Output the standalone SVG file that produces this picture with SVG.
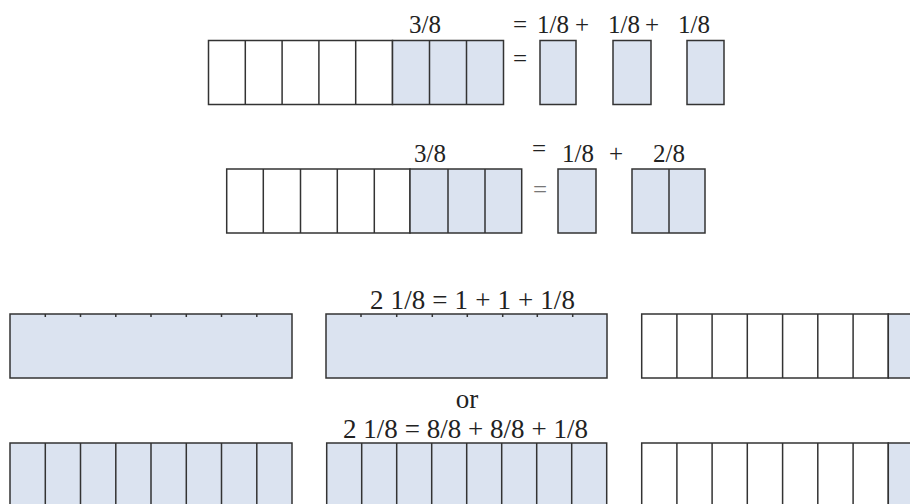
<svg xmlns="http://www.w3.org/2000/svg" width="910" height="504" viewBox="0 0 910 504">
<style>
.c{stroke:#333;stroke-width:1.5;fill:#fff}
.s{stroke:#333;stroke-width:1.5;fill:#dbe3f0}
.d{stroke:#333;stroke-width:1.5;fill:none}
.t{stroke:#333;stroke-width:1.5}
.f25{font-size:25px}
.f27{font-size:27px}
</style>
<rect width="910" height="504" fill="#fff"/>
<g id="labels" font-family="'Liberation Serif', 'DejaVu Serif', serif" fill="#222">
<text class="f25" x="425" y="33" text-anchor="middle">3/8</text>
<text class="f25" x="513" y="33">=</text>
<text class="f25" x="537" y="33">1/8</text>
<text class="f25" x="575" y="33">+</text>
<text class="f25" x="608" y="33">1/8</text>
<text class="f25" x="645" y="33">+</text>
<text class="f25" x="678" y="33">1/8</text>
<text class="f25" x="513" y="67">=</text>
<text class="f25" x="430" y="162" text-anchor="middle">3/8</text>
<text class="f25" x="532" y="157">=</text>
<text class="f25" x="562" y="162">1/8</text>
<text class="f25" x="609" y="162">+</text>
<text class="f25" x="653" y="162">2/8</text>
<text class="f25" x="533" y="198" fill="#777">=</text>
<text class="f27" x="370" y="309" textLength="205" lengthAdjust="spacing">2 1/8 = 1 + 1 + 1/8</text>
<text class="f27" x="467" y="408" text-anchor="middle">or</text>
<text class="f27" x="343" y="438" textLength="245" lengthAdjust="spacing">2 1/8 = 8/8 + 8/8 + 1/8</text>
</g>
<g id="row1-bar">
<rect class="c" x="208.5" y="40.5" width="184" height="64"/>
<rect class="s" x="392.5" y="40.5" width="111" height="64"/>
<path class="d" d="M245.3 40.5V104.5M282.1 40.5V104.5M318.9 40.5V104.5M355.7 40.5V104.5M429.5 40.5V104.5M466.5 40.5V104.5"/>
</g>
<g id="row1-parts">
<rect class="s" x="540" y="40.5" width="36" height="64"/>
<rect class="s" x="613" y="40.5" width="38" height="64"/>
<rect class="s" x="687" y="40.5" width="37" height="64"/>
</g>
<g id="row2-bar">
<rect class="c" x="226.7" y="169" width="183.3" height="64"/>
<rect class="s" x="410" y="169" width="111.7" height="64"/>
<path class="d" d="M263.3 169V233M300.5 169V233M337.3 169V233M374.3 169V233M448 169V233M485 169V233"/>
</g>
<g id="row2-parts">
<rect class="s" x="558" y="169" width="38" height="64"/>
<rect class="s" x="632" y="169" width="73" height="64"/>
<path class="d" d="M669 169V233"/>
</g>
<g id="row3-whole1">
<rect class="s" x="10" y="314" width="282" height="64"/>
<path class="t" d="M45.3 314V317M80.5 314V317M115.8 314V317M151 314V317M186.3 314V317M221.5 314V317M256.8 314V317"/>
</g>
<g id="row3-whole2">
<rect class="s" x="326" y="314" width="281" height="64"/>
<path class="t" d="M361 314V317M396.7 314V317M432.3 314V317M467.3 314V317M502.7 314V317M537.3 314V317M572.7 314V317"/>
</g>
<g id="row3-eighth">
<rect class="c" x="641.7" y="314" width="246.6" height="64"/>
<rect class="s" x="888.3" y="314" width="35.2" height="64"/>
<path class="d" d="M676.9 314V378M712.1 314V378M747.3 314V378M782.6 314V378M817.8 314V378M853.1 314V378"/>
</g>
<g id="row4-eighths1">
<rect class="s" x="10" y="443" width="282" height="70"/>
<path class="d" d="M45.3 443V513M80.5 443V513M115.8 443V513M151 443V513M186.3 443V513M221.5 443V513M256.8 443V513"/>
</g>
<g id="row4-eighths2">
<rect class="s" x="326.7" y="443" width="280" height="70"/>
<path class="d" d="M361.7 443V513M396.7 443V513M431.7 443V513M466.7 443V513M501.7 443V513M536.7 443V513M571.7 443V513"/>
</g>
<g id="row4-eighth">
<rect class="c" x="641.7" y="443" width="246.6" height="70"/>
<rect class="s" x="888.3" y="443" width="35.2" height="70"/>
<path class="d" d="M676.9 443V513M712.1 443V513M747.3 443V513M782.6 443V513M817.8 443V513M853.1 443V513"/>
</g>
<g id="connectors"></g>
</svg>
